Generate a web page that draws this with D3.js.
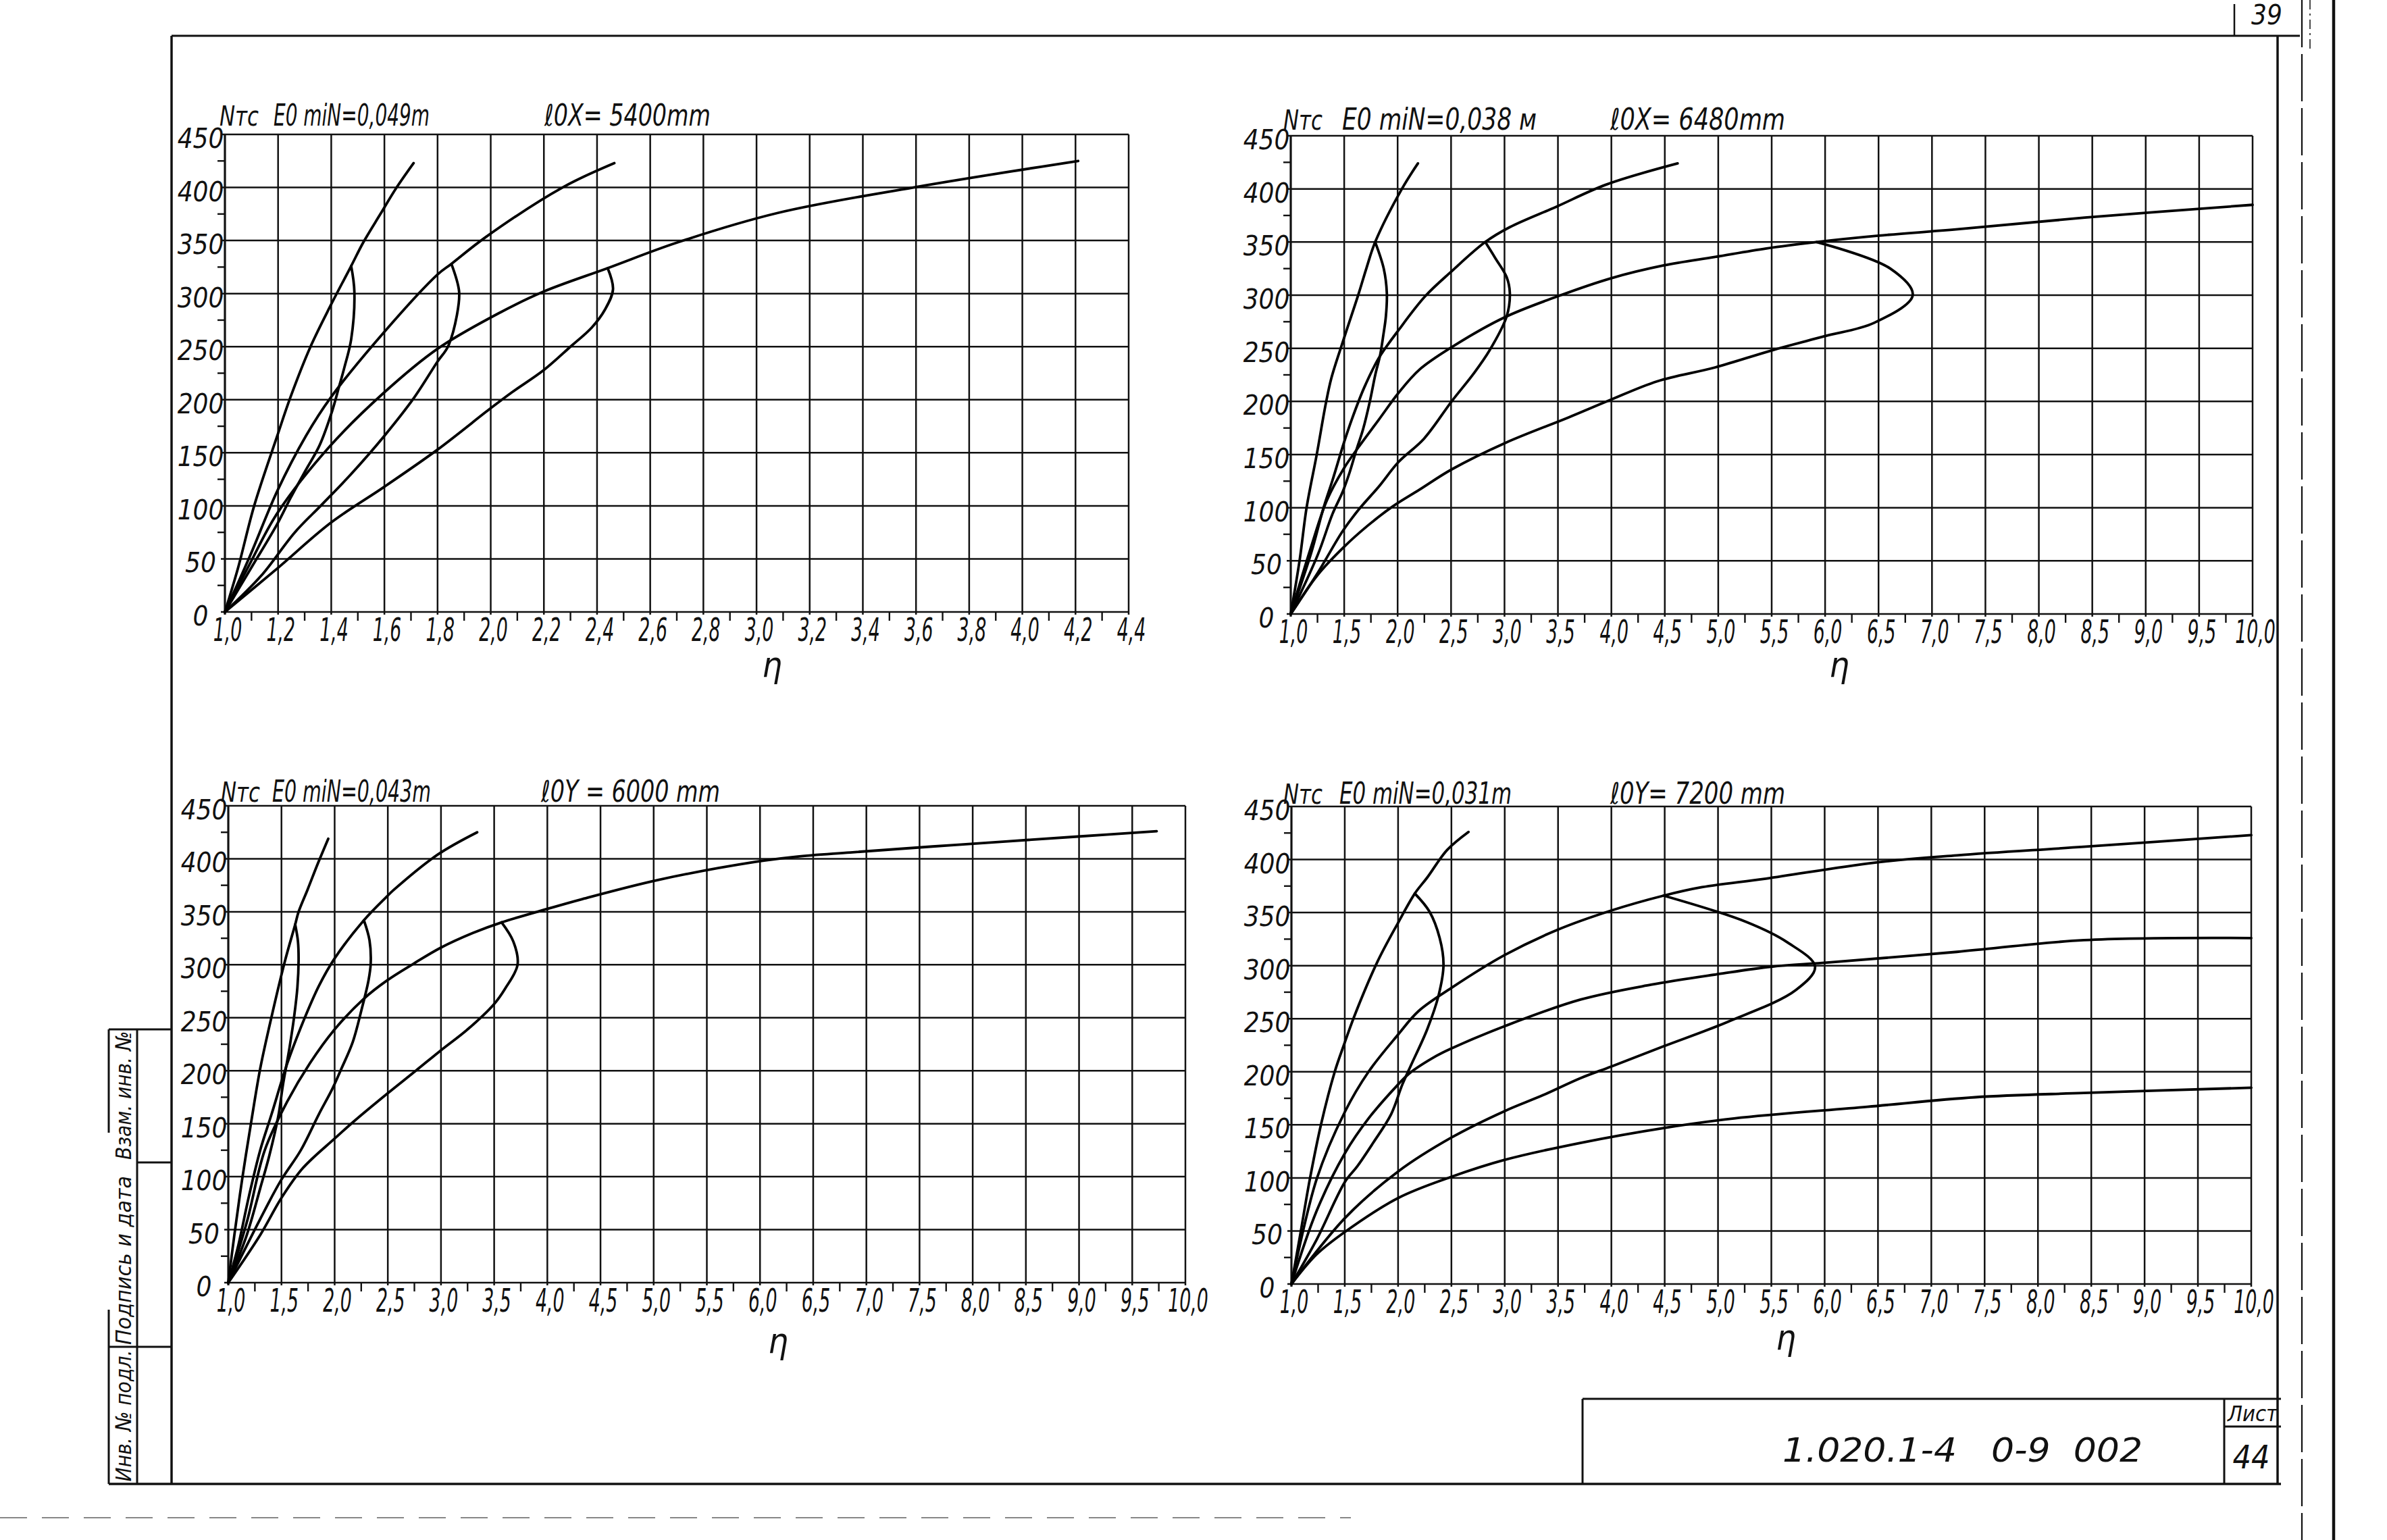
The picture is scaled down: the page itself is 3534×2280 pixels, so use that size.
<!DOCTYPE html>
<html>
<head>
<meta charset="utf-8">
<script src="https://cdn.jsdelivr.net/npm/d3@7"></script>
<style>
  body { margin: 0; background: #fff; }
  svg { display: block; }
  text { font-family: "Liberation Sans Narrow", "DejaVu Sans Condensed", "Liberation Sans", sans-serif; font-style: italic; fill: #111; white-space: pre; }
</style>
</head>
<body>
<svg id="sheet"></svg>
<script>
const W = 3534, H = 2280;

// axis ticks
const yTicks = [0, 50, 100, 150, 200, 250, 300, 350, 400, 450];
const yMinorTicks = [25, 75, 125, 175, 225, 275, 325, 375, 425];
const xTicksShort = [1.0, 1.2, 1.4, 1.6, 1.8, 2.0, 2.2, 2.4, 2.6, 2.8, 3.0, 3.2, 3.4, 3.6, 3.8, 4.0, 4.2, 4.4];
const xTicksLong = [1.0, 1.5, 2.0, 2.5, 3.0, 3.5, 4.0, 4.5, 5.0, 5.5, 6.0, 6.5, 7.0, 7.5, 8.0, 8.5, 9.0, 9.5, 10.0];

// top-left: e0 min = 0,049 m, l0x = 5400 mm   [eta, N tc]
const tlCurveA = [[1.0,0],[1.05,42],[1.11,100],[1.197,166],[1.246,202],[1.322,250],[1.398,289],[1.475,326],[1.52,348],[1.585,375],[1.646,400],[1.71,423]];
const tlLoopA  = [[1.475,326],[1.487,302],[1.475,257],[1.449,230],[1.428,211],[1.403,189],[1.356,157],[1.305,134],[1.246,107],[1.195,82],[1.10,42],[1.0,0]];
const tlCurveB = [[1.0,0],[1.093,52],[1.197,114],[1.305,166],[1.398,202],[1.6,264],[1.80,318],[1.852,328],[1.98,353],[2.27,400],[2.465,423]];
const tlLoopB  = [[1.852,328],[1.881,302],[1.873,280],[1.839,250],[1.80,236],[1.712,202],[1.6,166],[1.475,130],[1.364,101],[1.263,75],[1.136,34],[1.0,0]];
const tlCurveC = [[1.0,0],[1.093,45],[1.197,93],[1.398,157],[1.6,207],[1.80,248],[2.034,282],[2.20,302],[2.44,324],[2.70,348],[3.08,376],[3.59,400],[4.21,425]];
const tlLoopC  = [[2.44,324],[2.46,304],[2.43,285],[2.38,268],[2.30,250],[2.20,228],[2.08,207],[2.0,192],[1.80,153],[1.6,118],[1.398,84],[1.197,41],[1.0,0]];

// top-right: e0 min = 0,038 m, l0x = 6480 mm
const trCurveA = [[1.0,0],[1.085,52],[1.148,100],[1.243,150],[1.328,198],[1.38,222],[1.49,257],[1.634,301],[1.71,326],[1.79,350],[2.04,400],[2.19,424]];
const trLoopA  = [[1.79,350],[1.87,325],[1.899,302],[1.89,280],[1.867,263],[1.835,243],[1.793,226],[1.74,200],[1.677,174],[1.613,154],[1.55,133],[1.486,115],[1.39,94],[1.254,56],[1.0,0]];
const trCurveB = [[1.0,0],[1.19,57],[1.307,100],[1.391,126],[1.497,161],[1.571,183],[1.687,213],[1.825,241],[2.008,267],[2.258,299],[2.50,322],[2.82,350],[3.05,364],[3.48,383],[3.95,404],[4.62,424]];
const trLoopB  = [[2.82,350],[2.913,335],[3.02,317],[3.05,302],[3.02,280],[2.86,248],[2.71,226],[2.505,200],[2.247,165],[2.008,143],[1.825,120],[1.634,98],[1.486,78],[1.254,39],[1.0,0]];
const trCurveC = [[1.0,0],[1.19,63],[1.338,107],[1.497,137],[1.634,157],[1.825,183],[2.008,208],[2.205,230],[2.505,251],[2.998,279],[3.5,299],[4.0,316],[4.49,328],[4.97,336],[5.45,344],[5.92,350],[6.5,356],[7.24,362],[8.43,373],[10.0,385]];
const trLoopC  = [[5.92,350],[6.61,325],[6.82,300],[6.46,274],[5.98,261],[5.5,248],[4.97,232],[4.43,219],[3.98,201],[3.6,185],[3.008,161],[2.505,136],[2.205,117],[1.951,101],[1.719,83],[1.497,63],[1.254,37],[1.0,0]];

// bottom-left: e0 min = 0,043 m, l0y = 6000 mm
const blCurveA = [[1.0,0],[1.057,45],[1.131,98],[1.216,152],[1.30,202],[1.407,251],[1.534,304],[1.629,338],[1.661,350],[1.746,371],[1.84,395],[1.94,419]];
const blLoopA  = [[1.629,338],[1.655,322],[1.661,304],[1.65,279],[1.619,251],[1.576,222],[1.513,186],[1.47,157],[1.386,120],[1.30,89],[1.174,45],[1.0,0]];
const blCurveB = [[1.0,0],[1.089,33],[1.195,82],[1.30,125],[1.407,159],[1.555,207],[1.703,246],[1.852,280],[2.0,306],[2.275,342],[2.487,364],[2.56,371],[2.97,404],[3.34,425]];
const blLoopB  = [[2.275,342],[2.328,323],[2.339,301],[2.318,285],[2.254,258],[2.17,227],[2.064,202],[1.979,183],[1.852,159],[1.682,125],[1.492,96],[1.30,60],[1.0,0]];
const blCurveC = [[1.0,0],[1.174,57],[1.343,125],[1.555,171],[1.767,207],[2.0,239],[2.275,268],[2.49,285],[2.742,301],[2.996,316],[3.3,330],[3.57,340],[4.01,353],[4.33,362],[5.04,380],[5.95,397],[6.34,402],[6.85,406],[7.82,413],[8.99,421],[9.73,426]];
const blLoopC  = [[3.57,340],[3.68,322],[3.72,300],[3.6,277],[3.5,263],[3.25,239],[2.996,219],[2.763,200],[2.49,178],[2.19,153],[2.0,136],[1.7,108],[1.5,80],[1.30,45],[1.0,0]];

// bottom-right: e0 min = 0,031 m, l0y = 7200 mm
const brCurveA = [[1.0,0],[1.078,44],[1.173,99],[1.279,151],[1.406,200],[1.491,225],[1.596,254],[1.808,304],[1.998,340],[2.157,368],[2.273,383],[2.46,409],[2.66,426]];
const brLoopA  = [[2.157,368],[2.294,351],[2.39,326],[2.426,301],[2.38,272],[2.273,240],[2.125,207],[2.04,188],[1.935,160],[1.766,133],[1.618,111],[1.50,96],[1.237,42],[1.0,0]];
const brCurveB = [[1.0,0],[1.237,99],[1.5,162],[1.723,200],[2.0,235],[2.19,257],[2.5,279],[3.0,310],[3.5,334],[4.0,352],[4.49,366],[4.85,374],[5.45,382],[6.46,397],[7.24,404],[8.43,412],[10.0,423]];
const brLoopB  = [[4.49,366],[5.27,341],[5.65,322],[5.91,299],[5.73,277],[5.09,247],[4.49,224],[4.0,205],[3.71,194],[3.36,178],[3.0,163],[2.5,138],[2.0,106],[1.5,62],[1.0,0]];
const brCurveC = [[1.0,0],[1.237,69],[1.5,123],[1.723,156],[2.0,188],[2.1,198],[2.36,215],[2.5,222],[3.0,243],[3.71,268],[4.37,282],[5.0,292],[5.5,299],[6.04,303],[7.24,313],[8.43,324],[10.0,326]];
const brCurveD = [[1.0,0],[1.237,28],[1.5,49],[2.0,81],[2.5,101],[3.0,117],[3.71,133],[4.49,147],[5.15,156],[6.40,167],[7.41,176],[8.43,180],[10.0,185]];

const panels = [
  { left: 333, right: 1671, top: 199, bottom: 906, xDomain: [1.0, 4.4], xTicks: xTicksShort,
    eText: "E0 miN=0,049m", lText: "ℓ0X= 5400mm", nX: 325, eX: [405, 636], lX: [806, 1052], base: 186, eta: [1143, 1002],
    curves: [tlCurveA, tlLoopA, tlCurveB, tlLoopB, tlCurveC, tlLoopC] },
  { left: 1911, right: 3335, top: 201, bottom: 909, xDomain: [1.0, 10.0], xTicks: xTicksLong,
    eText: "E0 miN=0,038 м", lText: "ℓ0X= 6480mm", nX: 1900, eX: [1987, 2275], lX: [2384, 2643], base: 192, eta: [2723, 1002],
    curves: [trCurveA, trLoopA, trCurveB, trLoopB, trCurveC, trLoopC] },
  { left: 338, right: 1755, top: 1193, bottom: 1899, xDomain: [1.0, 10.0], xTicks: xTicksLong,
    eText: "E0 miN=0,043m", lText: "ℓ0Y = 6000 mm", nX: 327, eX: [403, 638], lX: [801, 1066], base: 1187, eta: [1152, 2003],
    curves: [blCurveA, blLoopA, blCurveB, blLoopB, blCurveC, blLoopC] },
  { left: 1912, right: 3333, top: 1194, bottom: 1901, xDomain: [1.0, 10.0], xTicks: xTicksLong,
    eText: "E0 miN=0,031m", lText: "ℓ0Y= 7200 mm", nX: 1900, eX: [1983, 2238], lX: [2384, 2643], base: 1190, eta: [2644, 1998],
    curves: [brCurveA, brLoopA, brCurveB, brLoopB, brCurveC, brCurveD] }
];

const ink = "#111";
const svg = d3.select("#sheet").attr("width", W).attr("height", H).attr("viewBox", [0, 0, W, H]);
svg.append("rect").attr("width", W).attr("height", H).attr("fill", "#fff");

const fmt = d => d.toFixed(1).replace(".", ",");

panels.forEach(p => {
  const x = d3.scaleLinear().domain(p.xDomain).range([p.left, p.right]);
  const y = d3.scaleLinear().domain([0, 450]).range([p.bottom, p.top]);
  const g = svg.append("g");

  // grid
  g.selectAll(".vgrid").data(p.xTicks).join("line")
    .attr("x1", d => x(d)).attr("x2", d => x(d))
    .attr("y1", y(0) + 4).attr("y2", y(450))
    .attr("stroke", ink).attr("stroke-width", d => d === p.xDomain[0] ? 3.2 : 2.5);
  g.selectAll(".hgrid").data(yTicks).join("line")
    .attr("x1", x(p.xDomain[0]) - 6).attr("x2", x(p.xDomain[1]))
    .attr("y1", d => y(d)).attr("y2", d => y(d))
    .attr("stroke", ink).attr("stroke-width", 2.5);

  // minor ticks
  g.selectAll(".ymin").data(yMinorTicks).join("line")
    .attr("x1", x(p.xDomain[0]) - 11).attr("x2", x(p.xDomain[0]))
    .attr("y1", d => y(d)).attr("y2", d => y(d))
    .attr("stroke", ink).attr("stroke-width", 2.4);
  g.selectAll(".xmin").data(d3.pairs(p.xTicks)).join("line")
    .attr("x1", d => x((d[0] + d[1]) / 2)).attr("x2", d => x((d[0] + d[1]) / 2))
    .attr("y1", y(0)).attr("y2", y(0) + 13)
    .attr("stroke", ink).attr("stroke-width", 2.4);

  // tick labels
  g.selectAll(".ylab").data(yTicks).join("text")
    .attr("x", x(p.xDomain[0]) - 36).attr("y", d => y(d) + 20)
    .attr("text-anchor", "middle").attr("font-size", 40)
    .text(d => d);
  g.selectAll(".xlab").data(p.xTicks).join("text")
    .attr("transform", d => `translate(${x(d) + 4},${y(0) + 43}) scale(0.62,1)`)
    .attr("text-anchor", "middle").attr("font-size", 48)
    .text(fmt);

  // headings
  g.append("text").attr("x", p.nX).attr("y", p.base).attr("font-size", 40)
    .attr("textLength", 58).attr("lengthAdjust", "spacingAndGlyphs").text("Nтс");
  g.append("text").attr("x", p.eX[0]).attr("y", p.base).attr("font-size", 44)
    .attr("textLength", p.eX[1] - p.eX[0]).attr("lengthAdjust", "spacingAndGlyphs").text(p.eText);
  g.append("text").attr("x", p.lX[0]).attr("y", p.base).attr("font-size", 44)
    .attr("textLength", p.lX[1] - p.lX[0]).attr("lengthAdjust", "spacingAndGlyphs").text(p.lText);
  g.append("text").attr("x", p.eta[0]).attr("y", p.eta[1]).attr("text-anchor", "middle")
    .attr("font-size", 52).text("η");

  // curves
  const line = d3.line()
    .x(d => x(d[0])).y(d => y(d[1]))
    .curve(d3.curveCatmullRom.alpha(0.5));
  g.selectAll(".curve").data(p.curves).join("path")
    .attr("d", line)
    .attr("fill", "none").attr("stroke", "#000")
    .attr("stroke-width", 3.8).attr("stroke-linejoin", "round").attr("stroke-linecap", "round");
});

// sheet frame
const frame = svg.append("g").attr("stroke", ink).attr("fill", "none");
const seg = (x1, y1, x2, y2, w, dash) => frame.append("line")
  .attr("x1", x1).attr("y1", y1).attr("x2", x2).attr("y2", y2)
  .attr("stroke-width", w).attr("stroke-dasharray", dash || null);

seg(254, 53, 3405, 53, 3);
seg(254, 53, 254, 2197, 3.5);
seg(3372, 53, 3372, 2197, 3.5);
seg(161, 2197, 3377, 2197, 3.5);
seg(3408, 0, 3408, 2280, 2.2, "70,10");
seg(3420, 0, 3420, 75, 1.5, "14,6,3,6");
seg(3455, 0, 3455, 2280, 4.5);
seg(3308, 6, 3308, 53, 2.5);
seg(0, 2247, 2000, 2247, 1.2, "40,22");

// left stamp
seg(161, 1524, 254, 1524, 3);
seg(203, 1524, 203, 2197, 3);
seg(161, 1524, 161, 1677, 3);
seg(161, 1939, 161, 2197, 3);
seg(203, 1721, 254, 1721, 3);
seg(161, 1994, 254, 1994, 3);

// title block
seg(2343, 2071, 3377, 2071, 3);
seg(2343, 2071, 2343, 2197, 3);
seg(3293, 2071, 3293, 2197, 3);
seg(3293, 2112, 3377, 2112, 3);

const labels = svg.append("g");
labels.append("text").attr("x", 2639).attr("y", 2164).attr("font-size", 50)
  .attr("textLength", 533).attr("lengthAdjust", "spacingAndGlyphs").text("1.020.1-4   0-9  002");
labels.append("text").attr("x", 3335).attr("y", 2104).attr("text-anchor", "middle").attr("font-size", 32)
  .attr("textLength", 74).attr("lengthAdjust", "spacingAndGlyphs").text("Лист");
labels.append("text").attr("x", 3333).attr("y", 2174).attr("text-anchor", "middle").attr("font-size", 48).text("44");
labels.append("text").attr("x", 3356).attr("y", 36).attr("text-anchor", "middle").attr("font-size", 40).text("39");

const stamp = [
  { text: "Взам. инв. №", cy: 1622, len: 190 },
  { text: "Подпись и дата", cy: 1866, len: 250 },
  { text: "Инв. № подл.", cy: 2096, len: 195 }
];
labels.selectAll(".stamp").data(stamp).join("text")
  .attr("transform", d => `translate(194,${d.cy}) rotate(-90)`)
  .attr("text-anchor", "middle").attr("font-size", 32)
  .attr("textLength", d => d.len).attr("lengthAdjust", "spacingAndGlyphs")
  .attr("fill", (d, i) => i === 1 ? "#555" : ink)
  .text(d => d.text);
</script>
</body>
</html>
